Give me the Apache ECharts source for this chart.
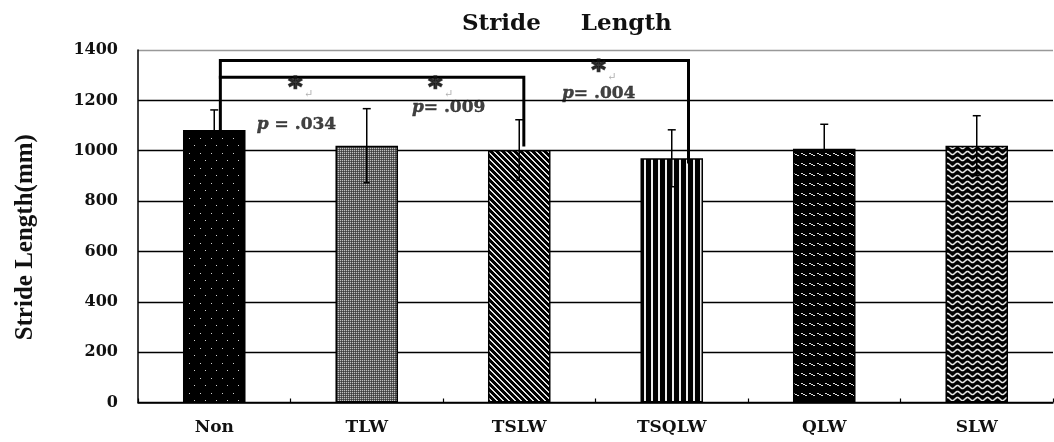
<!DOCTYPE html>
<html><head><meta charset="utf-8">
<script src="https://cdn.jsdelivr.net/npm/echarts@6/dist/echarts.min.js"></script>
<style>html,body{margin:0;padding:0;background:#fff}#c{width:1054px;height:442px}</style>
</head><body><div id="c"></div>
<script>
// ---- data ----
const categories = ['Non', 'TLW', 'TSLW', 'TSQLW', 'QLW', 'SLW'];
const means = [1082, 1020, 1003, 970, 1008, 1020];
const sds = [80, 147, 120, 113, 97, 119];
const yMin = 0, yMax = 1400, yStep = 200;
// significance brackets (x in category units, 0..6; y in mm)
const bracketOuter = [[0.54, 1088], [0.54, 1358], [3.61, 1358], [3.61, 955]];
const bracketInner = [[0.54, 1292], [2.53, 1292], [2.53, 1023]];
const starPos = [[0.985, 1245], [1.903, 1245], [2.973, 1313]];
const starText = ['*', '*', '*'];
const starMark = ['↵', '↵', '↵'];
const pPos = [[0.779, 1102], [1.796, 1170], [2.780, 1227]];
const pText = ['p = .034', 'p= .009', 'p= .004'];

// ---- patterns ----
function tile(w, h, draw) {
  const c = document.createElement('canvas'); c.width = w; c.height = h;
  const g = c.getContext('2d'); draw(g, w, h); return c;
}
const patNon = tile(11, 15, (g) => {
  g.fillStyle = '#000'; g.fillRect(0, 0, 11, 15);
  g.fillStyle = '#d0d0d0'; g.fillRect(2, 3, 1, 1); g.fillRect(7, 10, 1, 1);
});
const patTLW = tile(2, 2, (g) => {
  g.fillStyle = '#5c5c5c'; g.fillRect(0, 0, 2, 2);
  g.fillStyle = '#c0c0c0'; g.fillRect(0, 0, 1, 1);
  g.fillStyle = '#3c3c3c'; g.fillRect(1, 1, 1, 1);
});
const patTSLW = tile(6, 6, (g) => {
  g.fillStyle = '#000'; g.fillRect(0, 0, 6, 6);
  g.fillStyle = '#e0e0e0';
  for (let i = 0; i < 6; i++) { g.fillRect(i, i, 1, 1); g.fillRect((i + 1) % 6, i, 1, 1); }
});
const patTSQLW = tile(7, 2, (g) => {
  g.fillStyle = '#000'; g.fillRect(0, 0, 7, 2);
  g.fillStyle = '#ececec'; g.fillRect(0, 0, 2, 2);
});
const patQLW = tile(8, 10, (g) => {
  g.fillStyle = '#000'; g.fillRect(0, 0, 8, 10);
  g.fillStyle = '#dcdcdc';
  [[1,3],[2,3],[3,4],[4,4],[5,5],[6,5]].forEach(p => g.fillRect(p[0], p[1], 1, 1));
});
const patSLW = tile(10, 6, (g) => {
  g.fillStyle = '#000'; g.fillRect(0, 0, 10, 6);
  g.strokeStyle = '#e6e6e6'; g.lineWidth = 1.6; g.beginPath();
  for (let x = -1; x <= 11; x += 0.5) {
    const y = 3 + 1.5 * Math.sin(2 * Math.PI * x / 10);
    if (x === -1) g.moveTo(x, y); else g.lineTo(x, y);
  }
  g.stroke();
});
const patterns = [patNon, patTLW, patTSLW, patTSQLW, patQLW, patSLW];

const serifWide = 'DejaVu Serif';
const chart = echarts.init(document.getElementById('c'), null, { renderer: 'canvas' });
chart.setOption({
  animation: false,
  backgroundColor: '#fff',
  title: {
    text: 'Stride     Length', left: 457, top: 8,
    textStyle: { fontFamily: serifWide, fontWeight: 'bold', fontSize: 23, color: '#111' }
  },
  grid: { left: 138, right: 1, top: 50, bottom: 39.5, containLabel: false },
  xAxis: [{
    type: 'category', data: categories,
    axisLine: { lineStyle: { color: '#000', width: 1.5 } },
    axisTick: { show: true, inside: true, length: 4, lineStyle: { color: '#000', width: 1.2 } },
    axisLabel: { margin: 17, fontFamily: serifWide, fontWeight: 'bold', fontSize: 17, color: '#111' }
  }, {
    type: 'value', min: 0, max: 6, show: false, position: 'top'
  }],
  yAxis: {
    type: 'value', min: yMin, max: yMax, interval: yStep,
    name: 'Stride Length(mm)', nameLocation: 'middle', nameRotate: 90, nameGap: 100,
    nameTextStyle: { fontFamily: 'Liberation Serif', fontWeight: 'bold', fontSize: 25, color: '#111', padding: [0, 22, 0, 0] },
    axisLine: { show: true, lineStyle: { color: '#000', width: 1.5 } },
    axisTick: { show: false },
    axisLabel: {
      margin: 20, fontFamily: serifWide, fontWeight: 'bold', fontSize: 16, color: '#111',
      formatter: (v) => String(v)
    },
    splitLine: { show: true, lineStyle: { color: ['#000', '#000', '#000', '#000', '#000', '#000', '#000', '#999'], width: 1.3 } }
  },
  series: [
    {
      type: 'bar', barWidth: '41%', z: 2,
      data: means.map((v, i) => ({
        value: v,
        itemStyle: { color: { image: patterns[i], repeat: 'repeat' }, borderColor: '#000', borderWidth: 1.5 }
      }))
    },
    {
      type: 'custom', z: 5,
      encode: { x: 0, y: 1 },
      data: means.map((v, i) => [i, v, sds[i]]),
      renderItem: function (params, api) {
        const i = api.value(0), m = api.value(1), s = api.value(2);
        const top = api.coord([i, m + s]);
        const bot = api.coord([i, m - s]);
        const st = { stroke: '#000', lineWidth: 1.5 };
        return {
          type: 'group', children: [
            { type: 'line', shape: { x1: top[0], y1: top[1], x2: bot[0], y2: bot[1] }, style: st },
            { type: 'line', shape: { x1: top[0] - 4, y1: top[1], x2: top[0] + 4, y2: top[1] }, style: st },
            { type: 'line', shape: { x1: bot[0] - 3, y1: bot[1], x2: bot[0] + 3, y2: bot[1] }, style: st }
          ]
        };
      }
    },
    {
      type: 'line', xAxisIndex: 1, data: bracketOuter, symbol: 'none', z: 6,
      lineStyle: { color: '#000', width: 3, cap: 'square', join: 'miter' }
    },
    {
      type: 'line', xAxisIndex: 1, data: bracketInner, symbol: 'none', z: 6,
      lineStyle: { color: '#000', width: 3, cap: 'square', join: 'miter' }
    },
    {
      type: 'scatter', xAxisIndex: 1, symbolSize: 0, z: 7, silent: true,
      data: starPos.map((p, i) => ({ value: p, name: starText[i], mark: starMark[i] })),
      label: {
        show: true, position: [0, 0], align: 'left', verticalAlign: 'middle',
        formatter: (p) => '{s|' + p.data.name + '}{g|' + p.data.mark + '}',
        rich: {
          s: { fontFamily: 'DejaVu Sans', fontWeight: 'bold', fontSize: 27, color: '#111', textBorderColor: '#111', textBorderWidth: 1.6 },
          g: { fontFamily: serifWide, fontSize: 11, color: '#999', padding: [10, 0, 0, 2] }
        }
      }
    },
    {
      type: 'scatter', xAxisIndex: 1, symbolSize: 0, z: 7, silent: true,
      data: pPos.map((p, i) => ({ value: p, name: pText[i] })),
      label: {
        show: true, position: [0, 0], align: 'left', verticalAlign: 'middle',
        formatter: (p) => '{i|' + p.data.name[0] + '}{n|' + p.data.name.slice(1) + '}',
        rich: {
          i: { fontFamily: serifWide, fontWeight: 'bold', fontStyle: 'italic', fontSize: 17, color: '#111', textBorderColor: '#111', textBorderWidth: 0.4 },
          n: { fontFamily: serifWide, fontWeight: 'bold', fontSize: 17, color: '#111', textBorderColor: '#111', textBorderWidth: 0.4 }
        }
      }
    }
  ]
});
</script>
</body></html>
